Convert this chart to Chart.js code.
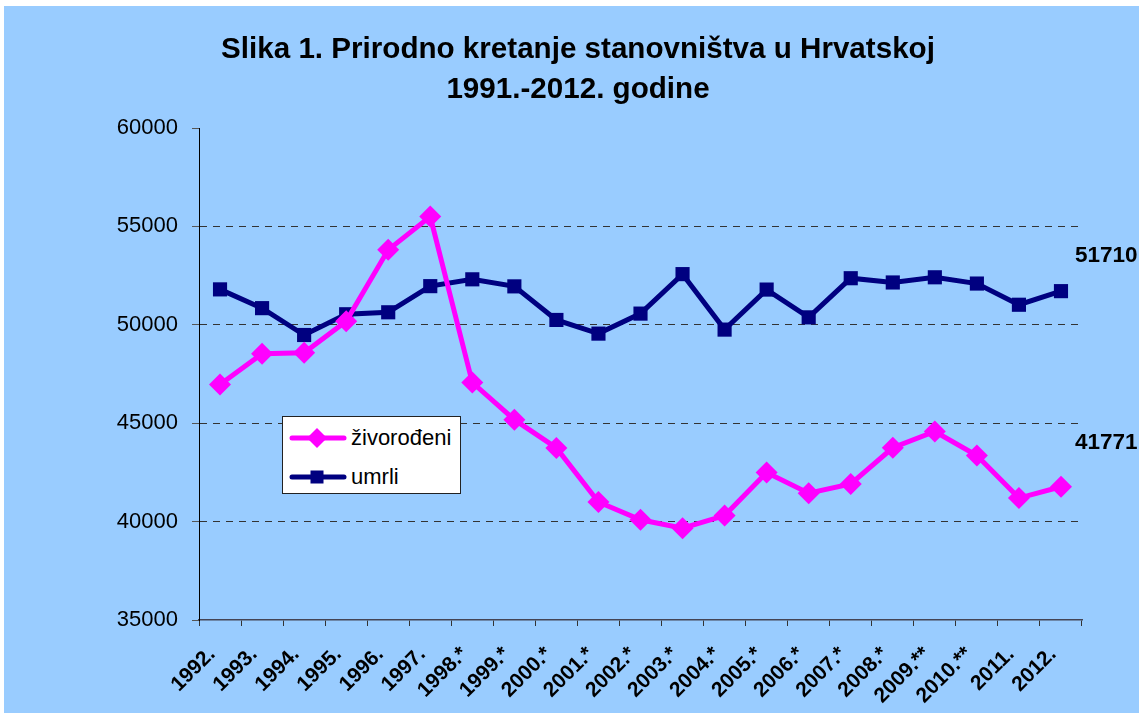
<!DOCTYPE html>
<html>
<head>
<meta charset="utf-8">
<script src="https://cdn.jsdelivr.net/npm/chart.js@4/dist/chart.umd.min.js"></script>
<style>
  html, body { margin:0; padding:0; background:#ffffff; width:1139px; height:713px; overflow:hidden; }
  #wrap { position:absolute; left:4px; top:6px; width:1135px; height:707px; background:#99CCFF; }
  #title { position:absolute; left:0; top:22px; width:1135px; padding-left:13px; box-sizing:border-box;
           text-align:center; font-family:"Liberation Sans", Arial, sans-serif; font-weight:bold;
           font-size:29.6px; line-height:40px; color:#000; }
  #legend { position:absolute; left:278px; top:410px; width:179px; height:78px; box-sizing:border-box;
            background:#fff; border:1px solid #222; font-family:"Liberation Sans", Arial, sans-serif;
            font-size:22px; color:#000; }
  .row { position:absolute; left:6px; height:30px; display:flex; align-items:center; }
  .row svg { margin-right:4px; }
  canvas { position:absolute; left:0; top:0; }
</style>
</head>
<body>
<div id="wrap">
  <canvas id="c" width="1135" height="707"></canvas>
  <div id="title">Slika 1. Prirodno kretanje stanovništva u Hrvatskoj<br>1991.-2012. godine</div>
  <div id="legend"></div>
</div>
<script>
const categories = ["1992.","1993.","1994.","1995.","1996.","1997.","1998.*","1999.*","2000.*","2001.*","2002.*","2003.*","2004.*","2005.*","2006.*","2007.*","2008.*","2009.**","2010.**","2011.","2012."];
const zivorodeni = [46970,48535,48584,50182,53811,55501,47068,45179,43746,40993,40094,39668,40307,42492,41446,41910,43753,44577,43361,41197,41771];
const umrli = [51800,50846,49482,50536,50636,51964,52311,51953,50246,49552,50569,52575,49756,51790,50378,52367,52151,52414,52096,51019,51710];
const yTicks = [35000,40000,45000,50000,55000,60000];
const seriesNames = ["živorođeni","umrli"];
const endLabels = ["41771","51710"];

const MAG = "#FF00FF", NAVY = "#000080";

const endLabelPlugin = {
  id: "endLabels",
  afterDatasetsDraw(chart, args, opts) {
    const ctx = chart.ctx;
    ctx.save();
    ctx.font = "bold 22.5px 'Liberation Sans', Arial, sans-serif";
    ctx.fillStyle = "#000";
    ctx.textBaseline = "middle";
    ctx.textAlign = "left";
    chart.data.datasets.forEach((ds, i) => {
      const meta = chart.getDatasetMeta(i);
      const p = meta.data[meta.data.length - 1];
      ctx.fillText(endLabels[i], p.x + opts.dx, p.y + opts.dy[i]);
    });
    ctx.restore();
  }
};

new Chart(document.getElementById("c"), {
  type: "line",
  data: {
    labels: categories,
    datasets: [
      { label: seriesNames[0], data: zivorodeni, borderColor: MAG, backgroundColor: MAG,
        borderWidth: 5, pointStyle: "rectRot", pointRadius: 11, pointBorderWidth: 0,
        pointBackgroundColor: MAG, tension: 0 },
      { label: seriesNames[1], data: umrli, borderColor: NAVY, backgroundColor: NAVY,
        borderWidth: 5, pointStyle: "rect", pointRadius: 10, pointBorderWidth: 0,
        pointBackgroundColor: NAVY, tension: 0 }
    ]
  },
  options: {
    responsive: false,
    animation: false,
    layout: { padding: { top: 122, right: 57, left: 0, bottom: 0 } },
    plugins: {
      legend: { display: false },
      tooltip: { enabled: false },
      title: { display: false },
      endLabels: { dx: 14, dy: [-44, -35] }
    },
    scales: {
      x: {
        offset: true,
        grid: { offset: true, drawOnChartArea: false, drawTicks: true, tickLength: 6, tickColor: "#333" },
        border: { display: true, color: "#445", width: 1.5 },
        ticks: { autoSkip: false, maxRotation: 45, minRotation: 45, padding: 16, labelOffset: -8,
                 color: "#000", font: { family: "'Liberation Sans', Arial, sans-serif", size: 21, weight: "bold" } },
        afterFit(scale) { scale.height = 93; }
      },
      y: {
        min: 35000, max: 60000,
        afterBuildTicks(scale) { scale.ticks = yTicks.map(v => ({ value: v })); },
        grid: {
          color: (c) => (c.tick && (c.tick.value === 60000 || c.tick.value === 35000)) ? "rgba(0,0,0,0)" : "#333",
          lineWidth: 1, drawTicks: true, tickLength: 7, tickColor: "#555"
        },
        border: { display: true, color: "#000", width: 1, dash: [7, 6] },
        ticks: { color: "#000", padding: 14,
                 font: { family: "'Liberation Sans', Arial, sans-serif", size: 22 },
                 callback: (v) => String(v) },
        afterFit(scale) { scale.width = 195; }
      }
    }
  },
  plugins: [endLabelPlugin]
});

// legend (HTML, real text)
const legend = document.getElementById("legend");
const legendStyles = [
  { color: MAG, marker: '<polygon points="28,2 38,12 28,22 18,12" fill="' + MAG + '"/>' },
  { color: NAVY, marker: '<rect x="21.5" y="5.5" width="13" height="13" fill="' + NAVY + '"/>' }
];
const rowTops = [6, 45];
seriesNames.forEach((name, i) => {
  const row = document.createElement("div");
  row.className = "row";
  row.style.top = rowTops[i] + "px";
  row.innerHTML = '<svg width="58" height="24" viewBox="0 0 58 24"><line x1="3" y1="12" x2="55" y2="12" stroke="' +
    legendStyles[i].color + '" stroke-width="5" stroke-linecap="round"/>' + legendStyles[i].marker + '</svg><span>' + name + '</span>';
  legend.appendChild(row);
});
</script>
</body>
</html>
